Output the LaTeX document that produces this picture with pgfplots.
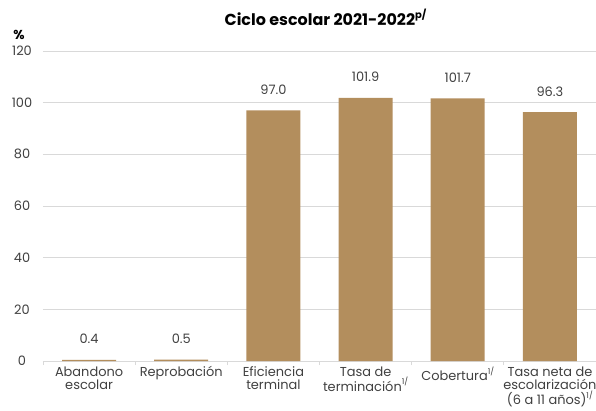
\documentclass[border=0pt]{standalone}
\usepackage{pgfplots}
\pgfplotsset{compat=1.18}
\usepackage{fontspec}
\setmainfont{Poppins}
\definecolor{barc}{HTML}{B38E5D}
\definecolor{gridc}{HTML}{D9D9D9}
\definecolor{txt}{HTML}{404040}
\newcommand{\sups}[1]{\raisebox{0.9ex}{\fontsize{8}{8}\selectfont #1}}
\begin{document}
\begin{tikzpicture}
\path[use as bounding box] (-43bp,-50bp) rectangle (553bp,361bp);
\begin{axis}[
  scale only axis,
  width=553bp, height=310bp,
  xmin=-0.5, xmax=5.5,
  ymin=0, ymax=120,
  ytick={0,20,...,120},
  xtick={0,...,5},
  xticklabels={{Abandono\\escolar},{Reprobación},{Eficiencia\\terminal},{Tasa de\\terminación\sups{1/}},{Cobertura\sups{1/}},{Tasa neta de\\escolarización\\(6 a 11 años)\sups{1/}}},
  minor xtick={-0.5,0.5,...,5.5},
  major tick length=0pt,
  minor tick length=4bp,
  tick align=outside,
  minor tick style={gridc, line width=0.8pt},
  axis x line*=bottom,
  axis y line*=left,
  y axis line style={draw=none},
  x axis line style={gridc, line width=0.8pt, -},
  ymajorgrids,
  grid style={gridc, line width=0.8pt},
  /pgf/number format/assume math mode=true,
  tick label style={font=\fontsize{13}{13.5}\selectfont, text=txt},
  xticklabel style={align=center, anchor=north, yshift=-2bp},
  yticklabel style={anchor=center, xshift=-21bp},
  ybar, bar width=54bp,
  nodes near coords,
  nodes near coords style={font=\fontsize{13}{13.5}\selectfont, text=txt, yshift=12.5bp, /pgf/number format/fixed, /pgf/number format/fixed zerofill, /pgf/number format/precision=1},
  clip=false,
]
\addplot[fill=barc, draw=none] coordinates {(0,0.4) (1,0.5) (2,97.0) (3,101.9) (4,101.7) (5,96.3)};
\node[font=\bfseries\fontsize{13}{13}\selectfont, text=black] at (rel axis cs:0,1) [xshift=-24bp, yshift=16bp] {\%};
\node[font=\bfseries\fontsize{16}{18}\selectfont, anchor=base, text=black] at (rel axis cs:0.5,1) [yshift=25bp, xshift=6bp] {Ciclo escolar 2021-2022\raisebox{0.85ex}{\fontsize{10}{10}\selectfont p/}};
\end{axis}
\end{tikzpicture}
\end{document}
